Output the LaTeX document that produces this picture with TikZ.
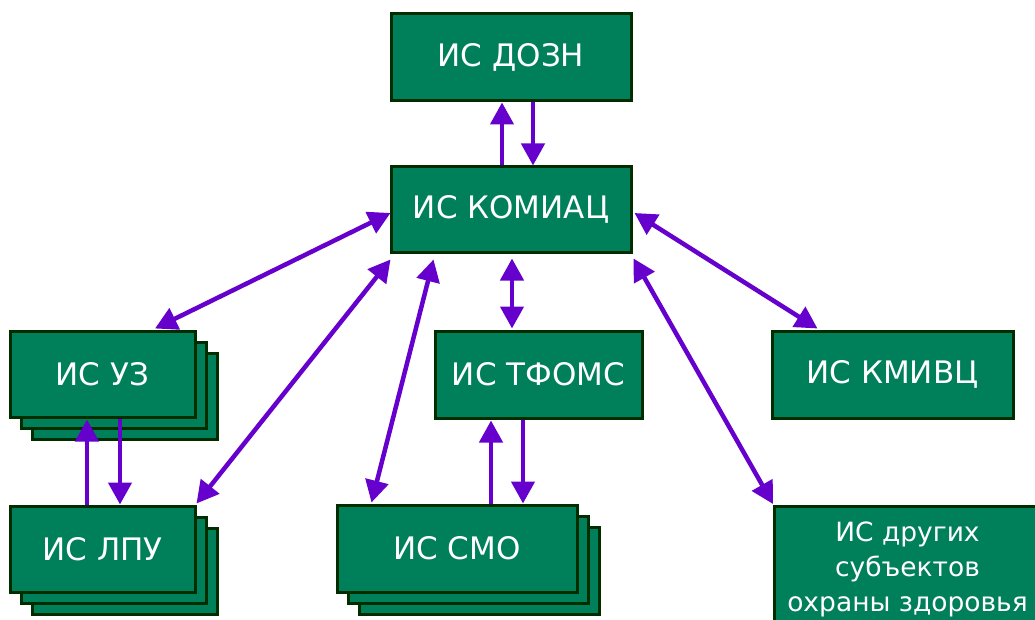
\documentclass[tikz,border=0pt]{standalone}
\usepackage{fontspec}
\setmainfont{DejaVu Sans}
\usetikzlibrary{arrows.meta,calc}
\definecolor{boxgreen}{RGB}{0,128,90}
\definecolor{boxedge}{RGB}{0,45,0}
\definecolor{arrowpurple}{RGB}{102,0,204}
\tikzset{
  isbox/.style={draw=boxedge, fill=boxgreen, line width=3pt, text=white,
    font=\fontsize{31}{36}\selectfont, inner sep=0pt,
    minimum width=#1, minimum height=86pt},
  isbox/.default=240pt,
  link/.style={draw=arrowpurple, line width=4.5pt,
    -{Triangle[length=22pt,width=23pt]}},
  dlink/.style={draw=arrowpurple, line width=4.5pt,
    {Triangle[length=22pt,width=23pt]}-{Triangle[length=22pt,width=23pt]}},
}
\begin{document}
\begin{tikzpicture}[x=1pt,y=-1pt]
\clip (0,0) rectangle (1035,620);
% top
\node[isbox=240pt, minimum height=87pt] (dozn) at (511,57.5) {ИС ДОЗН};
\node[isbox=240pt, minimum height=85pt] (komiac) at (511,209.5) {ИС КОМИАЦ};
% УЗ stack
\node[isbox=185pt] (uzc) at (124.5,396) {};
\node[isbox=185pt] (uzb) at (113.5,385) {};
\node[isbox=185pt] (uz) at (102.5,374) {ИС УЗ};
% ЛПУ stack
\node[isbox=185pt] (lpuc) at (124.5,571) {};
\node[isbox=185pt] (lpub) at (113.5,560) {};
\node[isbox=185pt] (lpu) at (102.5,549) {ИС ЛПУ};
% ТФОМС
\node[isbox=207pt, minimum height=87pt] (tfoms) at (538.5,374.5) {ИС ТФОМС};
% СМО stack
\node[isbox=240pt, minimum height=87pt] (smoc) at (479,570.5) {};
\node[isbox=240pt, minimum height=87pt] (smob) at (468,559.5) {};
\node[isbox=240pt, minimum height=87pt] (smo) at (457,548.5) {ИС СМО};
% КМИВЦ
\node[isbox=241pt, minimum height=87pt] (kmivc) at (892.5,374.5) {ИС КМИВЦ};
% other
\node[isbox=266pt, minimum height=125pt, anchor=north west, align=center,
  font=\fontsize{26.5}{35}\selectfont] (other) at (773,505)
  {ИС других\\субъектов\\охраны здоровья};
% arrows
\draw[link] ($(komiac.north)+(-9,0)$) -- ($(dozn.south)+(-9,0)$);
\draw[link] ($(dozn.south)+(22,0)$) -- ($(komiac.north)+(22,0)$);
\draw[link] ($(lpu.north)+(-15.5,0)$) -- ($(uz.south)+(-15.5,1)$);
\draw[link] ($(uz.south)+(17.5,0)$) -- ($(lpu.north)+(17.5,0)$);
\draw[link] ($(smo.north)+(34,0)$) -- ($(tfoms.south)+(-47.5,1)$);
\draw[link] ($(tfoms.south)+(-15.5,0)$) -- ($(smo.north)+(66,0)$);
\draw[dlink] ($(komiac.west)+(1,3.5)$) -- ($(uz.north)+(52.5,-1)$);
\draw[dlink] ($(komiac.south west)+(1,6)$) -- ($(lpu.north east)+(0,-1)$);
\draw[dlink] ($(komiac.south west)+(44,6)$) -- ($(smo.north west)+(36,-1)$);
\draw[dlink] ($(komiac.south)+(1,5)$) -- ($(komiac.south |- tfoms.north)+(1,-1)$);
\draw[dlink] ($(komiac.east)+(2,3.5)$) -- ($(kmivc.north west)+(47,-1)$);
\draw[dlink] ($(komiac.south east)+(1,5)$) -- ($(other.north west)+(0,-1)$);
\end{tikzpicture}
\end{document}
